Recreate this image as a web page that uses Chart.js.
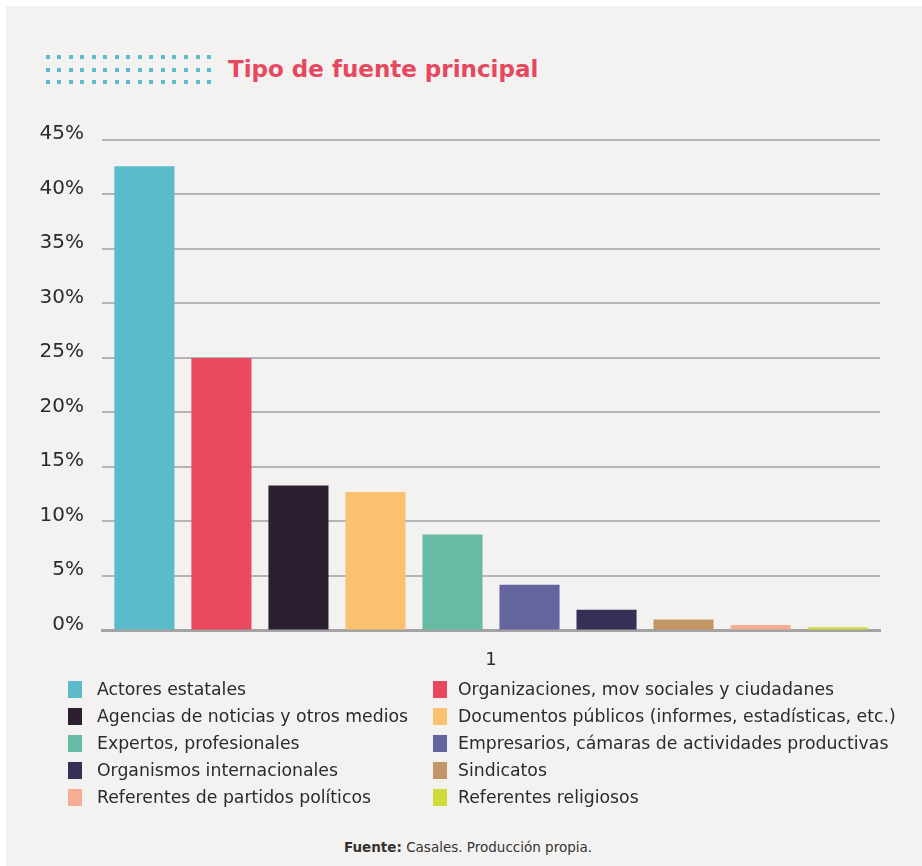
<!DOCTYPE html>
<html>
<head>
<meta charset="utf-8">
<script src="https://cdn.jsdelivr.net/npm/chart.js@4/dist/chart.umd.min.js"></script>
<style>
  html, body { margin: 0; padding: 0; background: #ffffff; }
  body { width: 922px; height: 866px; position: relative; overflow: hidden; font-family: "DejaVu Sans", Verdana, sans-serif; }
  #panel { position: absolute; left: 6px; top: 6px; right: 0; bottom: 0; background: #f3f2f0; }
  #dots { position: absolute; left: 0; top: 0; }
  .dot { position: absolute; width: 4px; height: 4px; background: #5bbccc; }
  #title { position: absolute; left: 228px; top: 55px; font-family: "DejaVu Sans", Verdana, sans-serif; font-weight: bold; font-size: 23px; line-height: 28px; color: #e5485f; white-space: nowrap; }
  #chartBox { position: absolute; left: 0; top: 0; width: 922px; height: 700px; }
  #legend { position: absolute; left: 68px; top: 675.5px; display: grid; grid-template-columns: 365px auto; }
  .li { height: 27px; display: flex; align-items: center; font-size: 17.3px; color: #2b2b2b; white-space: nowrap; }
  .sw { width: 14px; height: 17px; margin-right: 15px; flex: none; }
  .li.r .sw { margin-right: 11px; }
  #footer { position: absolute; left: 0; width: 936px; top: 838px; text-align: center; font-size: 13.5px; color: #333; line-height: 18px; }
</style>
</head>
<body>
<div id="panel"></div>
<div id="dots"></div>
<div id="title">Tipo de fuente principal</div>
<div id="chartBox"><canvas id="c"></canvas></div>
<div id="legend"></div>
<div id="footer"><b>Fuente:</b> Casales. Producción propia.</div>
<script>
const categories = ['1'];
const seriesNames = [
  'Actores estatales',
  'Organizaciones, mov sociales y ciudadanes',
  'Agencias de noticias y otros medios',
  'Documentos públicos (informes, estadísticas, etc.)',
  'Expertos, profesionales',
  'Empresarios, cámaras de actividades productivas',
  'Organismos internacionales',
  'Sindicatos',
  'Referentes de partidos políticos',
  'Referentes religiosos'
];
const seriesValues = [42.6, 25.0, 13.3, 12.7, 8.8, 4.2, 1.9, 1.0, 0.5, 0.3];
const seriesColors = ['#5bbbcb', '#e8495e', '#2c2030', '#fbc070', '#67bba5', '#64649e', '#372f55', '#c29666', '#f7ad93', '#cedb3b'];
const yTickValues = [0, 5, 10, 15, 20, 25, 30, 35, 40, 45];

const datasets = seriesNames.map((name, i) => ({
  label: name,
  data: [seriesValues[i]],
  backgroundColor: seriesColors[i],
  borderWidth: 0,
  barPercentage: 0.78,
  categoryPercentage: 0.99
}));

new Chart(document.getElementById('c'), {
  type: 'bar',
  data: { labels: categories, datasets: datasets },
  options: {
    responsive: true,
    maintainAspectRatio: false,
    animation: false,
    layout: { padding: { top: 140, right: 42, bottom: 10, left: 0 } },
    plugins: { legend: { display: false }, tooltip: { enabled: false }, title: { display: false } },
    scales: {
      x: {
        grid: { display: false, drawTicks: false },
        border: { display: true, color: '#a3a3a3', width: 3 },
        ticks: { color: '#2b2b2b', padding: 19, font: { family: '"DejaVu Sans", Verdana, sans-serif', size: 18 } }
      },
      y: {
        min: 0,
        max: 45,
        afterFit: (scale) => { scale.width = 102; },
        afterBuildTicks: (scale) => { scale.ticks = yTickValues.map(v => ({ value: v })); },
        grid: {
          drawTicks: false,
          lineWidth: 2,
          color: (ctx) => (ctx.tick && ctx.tick.value === 0) ? 'rgba(0,0,0,0)' : '#b4b4b4'
        },
        border: { display: false },
        ticks: {
          padding: 18,
          labelOffset: -6,
          color: '#2b2b2b',
          font: { family: '"DejaVu Sans", Verdana, sans-serif', size: 20 },
          callback: (v) => v + '%'
        }
      }
    }
  }
});

// decorative dot block next to the title
const dots = document.getElementById('dots');
for (let r = 0; r < 3; r++) {
  for (let c = 0; c < 15; c++) {
    const d = document.createElement('div');
    d.className = 'dot';
    d.style.left = (45.5 + c * 11.54) + 'px';
    d.style.top = (55 + r * 12.5) + 'px';
    dots.appendChild(d);
  }
}

const legend = document.getElementById('legend');
seriesNames.forEach((name, i) => {
  const item = document.createElement('div');
  item.className = 'li' + (i % 2 === 1 ? ' r' : '');
  const sw = document.createElement('span');
  sw.className = 'sw';
  sw.style.background = seriesColors[i];
  const tx = document.createElement('span');
  tx.textContent = name;
  item.appendChild(sw);
  item.appendChild(tx);
  legend.appendChild(item);
});
</script>
</body>
</html>
